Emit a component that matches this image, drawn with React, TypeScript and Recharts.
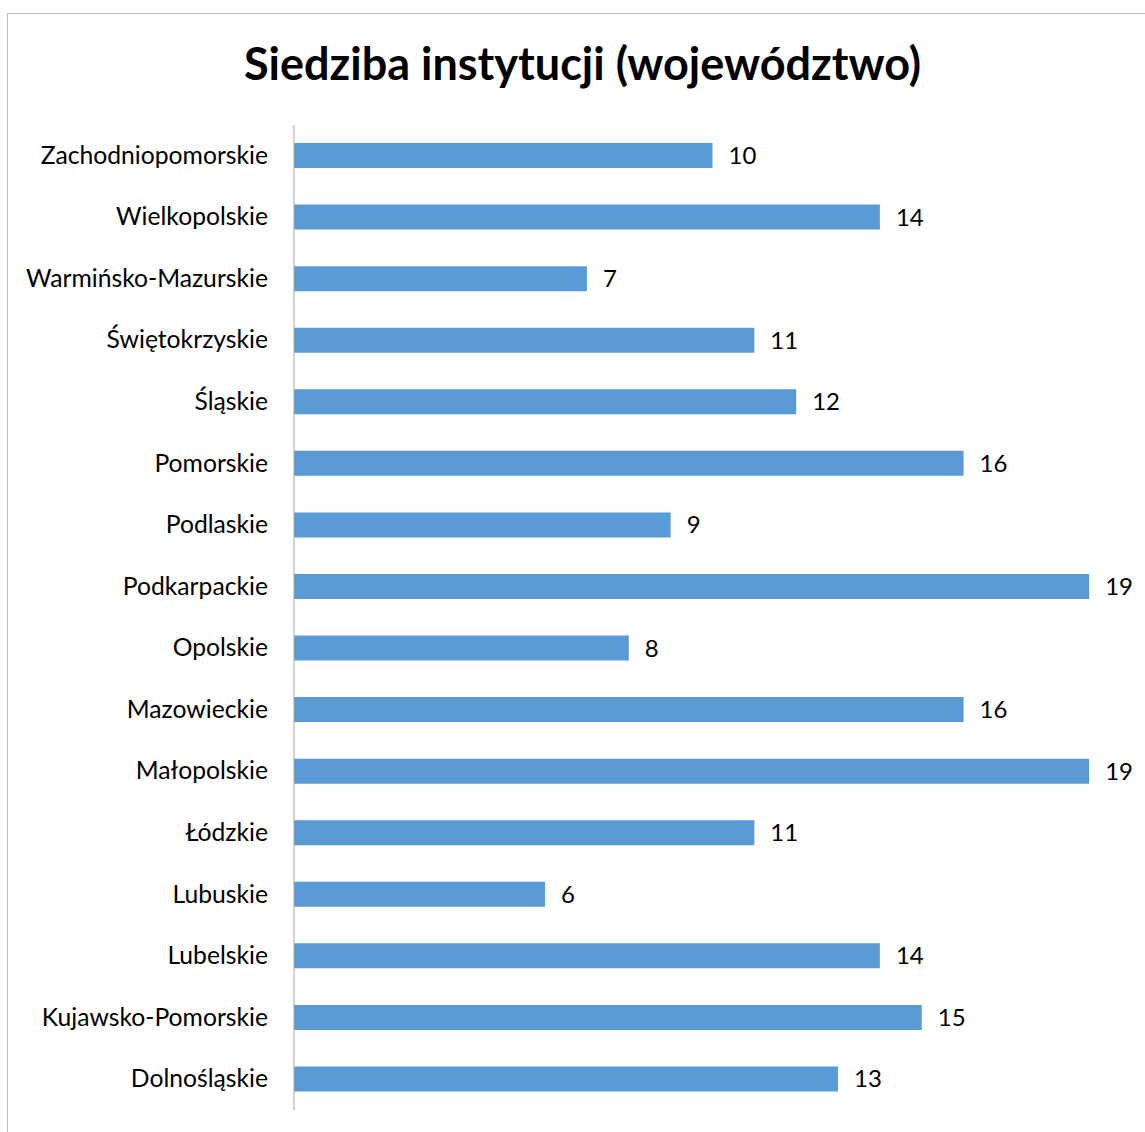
import { BarChart, Bar, XAxis, YAxis, LabelList } from "recharts"

const regions = [
    "Zachodniopomorskie",
    "Wielkopolskie",
    "Warmińsko-Mazurskie",
    "Świętokrzyskie",
    "Śląskie",
    "Pomorskie",
    "Podlaskie",
    "Podkarpackie",
    "Opolskie",
    "Mazowieckie",
    "Małopolskie",
    "Łódzkie",
    "Lubuskie",
    "Lubelskie",
    "Kujawsko-Pomorskie",
    "Dolnośląskie",
]

const counts = [10, 14, 7, 11, 12, 16, 9, 19, 8, 16, 19, 11, 6, 14, 15, 13]

const FONT = "Lato, 'Open Sans', sans-serif"

const data = regions.map((name, i) => ({ name, value: counts[i] }))

const RegionTick = (props: any) => {
    const { x, y, payload } = props
    return (
        <text x={x - 18} y={y} dy={8} textAnchor="end" fill="#000" fontSize={24.7} fontFamily={FONT}>
            {payload.value}
        </text>
    )
}

export default function App() {
    return (
        <div style={{ position: "absolute", left: 0, top: 0, width: 1145, height: 1132, overflow: "hidden", background: "#fff" }}>
            <div
                style={{
                    position: "absolute",
                    left: 7,
                    top: 13,
                    width: 1300,
                    height: 1300,
                    border: "1px solid #bfbfbf",
                }}
            />
            <div
                style={{
                    position: "absolute",
                    left: 0,
                    top: 35,
                    width: 1165,
                    textAlign: "center",
                    fontFamily: FONT,
                    fontWeight: 700,
                    fontSize: 45,
                    lineHeight: "56px",
                    color: "#000",
                }}
            >
                Siedziba instytucji (województwo)
            </div>
            <div style={{ position: "absolute", left: 0, top: 0 }}>
                <BarChart
                    width={1145}
                    height={1132}
                    data={data}
                    layout="vertical"
                    margin={{ top: 125, right: 14, bottom: 22, left: 0 }}
                    barCategoryGap={0}
                >
                    <XAxis type="number" domain={[0, 20]} hide />
                    <YAxis
                        type="category"
                        dataKey="name"
                        width={294}
                        axisLine={{ stroke: "#a6a6a6", strokeWidth: 1 }}
                        tickLine={false}
                        tick={<RegionTick />}
                        interval={0}
                    />
                    <Bar dataKey="value" fill="#5B9BD5" barSize={25} isAnimationActive={false}>
                        <LabelList
                            dataKey="value"
                            position="right"
                            offset={16}
                            fill="#000"
                            fontSize={24}
                            fontFamily={FONT}
                        />
                    </Bar>
                </BarChart>
            </div>
        </div>
    )
}
